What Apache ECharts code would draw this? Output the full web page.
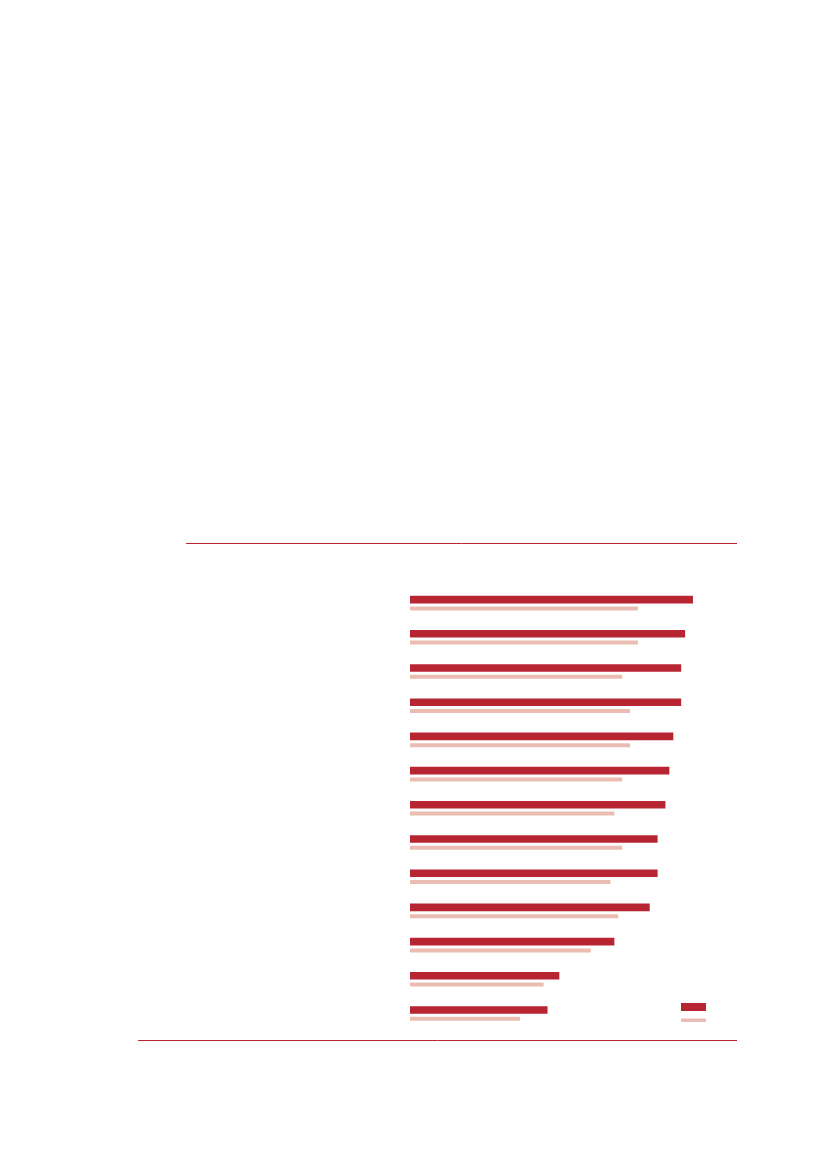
<!DOCTYPE html>
<html>
<head>
<meta charset="utf-8">
<script src="https://cdn.jsdelivr.net/npm/echarts@6/dist/echarts.min.js"></script>
<style>
  html, body { margin: 0; padding: 0; background: #fff; }
  #chart { width: 827px; height: 1169px; }
</style>
</head>
<body>
<div id="chart"></div>
<script>
// categories top to bottom (no labels are printed in the reference)
const categories = ["A", "B", "C", "D", "E", "F", "G", "H", "I", "J", "K", "L", "M"];
const currentValues = [72, 70, 69, 69, 67, 66, 65, 63, 63, 61, 52, 38, 35];
const previousValues = [58, 58, 54, 56, 56, 54, 52, 54, 51, 53, 46, 34, 28];
const seriesNames = ["Current", "Previous"];

const darkRed = "#b72532";
const lightPink = "#ebbdb2";

const chart = echarts.init(document.getElementById("chart"));

chart.setOption({
  animation: false,
  grid: { left: 410, width: 393, top: 586, height: 444.6 },
  xAxis: {
    type: "value",
    min: 0,
    max: 100,
    show: false
  },
  yAxis: {
    type: "category",
    data: categories,
    inverse: true,
    axisLine: { show: false },
    axisTick: { show: false },
    axisLabel: { show: false },
    splitLine: { show: false }
  },
  legend: [
    {
      data: [seriesNames[0]],
      left: 681,
      top: 1003,
      padding: 0,
      itemWidth: 25,
      itemHeight: 8,
      icon: "rect",
      selectedMode: false,
      formatter: () => ""
    },
    {
      data: [seriesNames[1]],
      left: 681,
      top: 1018.5,
      padding: 0,
      itemWidth: 25,
      itemHeight: 3.5,
      icon: "rect",
      selectedMode: false,
      formatter: () => ""
    }
  ],
  graphic: [
    {
      type: "line",
      shape: { x1: 186, y1: 543.5, x2: 737, y2: 543.5 },
      style: { stroke: darkRed, lineWidth: 1 }
    },
    {
      type: "line",
      shape: { x1: 138, y1: 1040.5, x2: 737, y2: 1040.5 },
      style: { stroke: darkRed, lineWidth: 1 }
    }
  ],
  series: [
    {
      name: seriesNames[0],
      type: "bar",
      data: currentValues,
      barWidth: 7.6,
      barGap: "39.5%",
      itemStyle: { color: darkRed }
    },
    {
      name: seriesNames[1],
      type: "bar",
      data: previousValues,
      barWidth: 4,
      itemStyle: { color: lightPink }
    }
  ]
});
</script>
</body>
</html>
